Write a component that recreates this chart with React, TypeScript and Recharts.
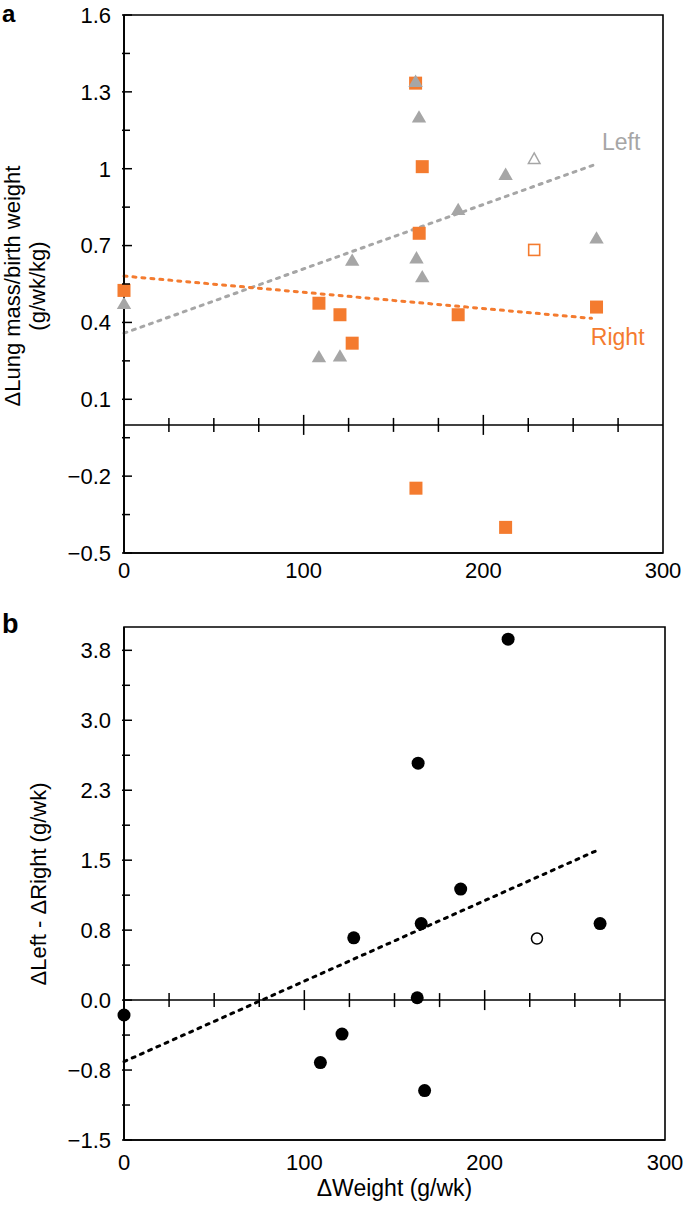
import React from "react";
import {
  ReferenceArea,
  ReferenceDot,
  ReferenceLine,
  Scatter,
  ScatterChart,
  XAxis,
  YAxis,
} from "recharts";

const FONT = '"Liberation Sans", Arial, Helvetica, sans-serif';
const ORANGE = "#f47b2f";
const GRAY = "#a6a6a6";

// panel a – right lung (orange squares)
const rightX = [0, 108.5, 120.2, 127, 162.3, 164.3, 166, 186, 263, 162.5, 212.4];
const rightY = [0.525, 0.475, 0.43, 0.319, 1.334, 0.748, 1.008, 0.43, 0.46, -0.247, -0.4];
const rightOpenX = [228.3];
const rightOpenY = [0.683];
const rightTrendX = [0, 260.2];
const rightTrendY = [0.581, 0.416];

// panel a – left lung (grey triangles)
const leftX = [0, 108.5, 120.2, 127, 162.3, 164.2, 162.8, 166, 186, 212.4, 263];
const leftY = [0.475, 0.267, 0.27, 0.644, 1.342, 1.203, 0.653, 0.579, 0.842, 0.979, 0.731];
const leftOpenX = [228.3];
const leftOpenY = [1.04];
const leftTrendX = [0, 261.2];
const leftTrendY = [0.358, 1.014];

// panel b – left minus right
const diffX = [0, 108.9, 120.9, 127.4, 162.6, 164.8, 166.7, 186.7, 264, 163.1, 213];
const diffY = [-0.16, -0.67, -0.364, 0.668, 0.025, 0.82, -0.97, 1.19, 0.82, 2.54, 3.87];
const diffOpenX = [229];
const diffOpenY = [0.66];
const diffTrendX = [0, 262.6];
const diffTrendY = [-0.66, 1.607];

// ticks
const xTicks = [0, 100, 200, 300];
const zeroLineTicks = [25, 50, 75, 100, 125, 150, 175, 200, 225, 250, 275];
const zeroLineMajor = [100, 200];
const aMajorTicks = [-0.5, -0.2, 0.1, 0.4, 0.7, 1, 1.3, 1.6];
const aMajorLabels = ["−0.5", "−0.2", "0.1", "0.4", "0.7", "1", "1.3", "1.6"];
const aMinorTicks = [-0.35, -0.05, 0.25, 0.55, 0.85, 1.15, 1.45];
const bMajorTicks = [-1.5, -0.75, 0, 0.75, 1.5, 2.25, 3, 3.75];
const bMajorLabels = ["−1.5", "−0.8", "0.0", "0.8", "1.5", "2.3", "3.0", "3.8"];
const bMinorTicks = [-1.125, -0.375, 0.375, 1.125, 1.875, 2.625, 3.375];

const zip = (xs: number[], ys: number[]) => xs.map((x, i) => ({ x, y: ys[i] }));
const zeroTickData = zeroLineTicks.map((x) => ({ x, y: 0, major: zeroLineMajor.includes(x) }));

function makeYTick(values: number[], labels: string[]) {
  return (props: any) => {
    const { x, y, payload } = props;
    const i = values.findIndex((v) => Math.abs(v - payload.value) < 1e-6);
    const major = i >= 0;
    return (
      <g>
        <line x1={x} x2={x + (major ? 10 : 8)} y1={y} y2={y} stroke="#000" strokeWidth={1.5} />
        {major && (
          <text x={x - 11} y={y} dy="0.36em" textAnchor="end" fontSize={22} fontFamily={FONT} fill="#000">
            {labels[i]}
          </text>
        )}
      </g>
    );
  };
}

function makeXTick(dy: number) {
  return (props: any) => (
    <text x={props.x} y={props.y + dy} textAnchor="middle" fontSize={22} fontFamily={FONT} fill="#000">
      {props.payload.value}
    </text>
  );
}

const ZeroTick = (p: any) => {
  const h = p.payload.major ? 10 : 7;
  return <line x1={p.cx} x2={p.cx} y1={p.cy - h} y2={p.cy + h} stroke="#000" strokeWidth={1.5} />;
};
const Square = (p: any) => <rect x={p.cx - 6.5} y={p.cy - 6.5} width={13} height={13} fill={ORANGE} />;
const OpenSquare = (p: any) => (
  <rect x={p.cx - 5.5} y={p.cy - 5.5} width={11} height={11} fill="#fff" stroke={ORANGE} strokeWidth={1.6} />
);
const Triangle = (p: any) => (
  <polygon
    points={`${p.cx},${p.cy - 6.5} ${p.cx + 7.2},${p.cy + 5.8} ${p.cx - 7.2},${p.cy + 5.8}`}
    fill={GRAY}
  />
);
const OpenTriangle = (p: any) => (
  <polygon
    points={`${p.cx},${p.cy - 5.5} ${p.cx + 5.8},${p.cy + 5} ${p.cx - 5.8},${p.cy + 5}`}
    fill="#fff"
    stroke={GRAY}
    strokeWidth={1.5}
  />
);
const Dot = (p: any) => <circle cx={p.cx} cy={p.cy} r={6.5} fill="#000" />;
const OpenDot = (p: any) => <circle cx={p.cx} cy={p.cy} r={5.5} fill="#fff" stroke="#000" strokeWidth={1.5} />;

const textLabel = (text: string, color: string) => (p: any) => (
  <text x={p.viewBox.x} y={p.viewBox.y} fontSize={23} fontFamily={FONT} fill={color}>
    {text}
  </text>
);

export default function App() {
  const dash = { strokeWidth: 3, strokeDasharray: "3 6", strokeLinecap: "round" as const };
  return (
    <div style={{ position: "absolute", left: 0, top: 0, width: 685, height: 1206, background: "#fff" }}>
      <ScatterChart width={685} height={600} margin={{ top: 15, right: 22, bottom: 17, left: 64 }}>
        <XAxis
          type="number"
          dataKey="x"
          domain={[0, 300]}
          ticks={xTicks}
          interval={0}
          height={30}
          tickSize={0}
          tickLine={false}
          tick={makeXTick(23)}
          axisLine={{ stroke: "#000", strokeWidth: 1.5 }}
        />
        <YAxis
          type="number"
          dataKey="y"
          domain={[-0.5, 1.6]}
          ticks={[...aMajorTicks, ...aMinorTicks]}
          interval={0}
          width={60}
          tickSize={0}
          tickLine={false}
          tick={makeYTick(aMajorTicks, aMajorLabels)}
          axisLine={{ stroke: "#000", strokeWidth: 1.8 }}
          label={{
            content: () => (
              <g fontFamily={FONT} fill="#000">
                <text x={2} y={22} fontSize={24} fontWeight="bold">a</text>
                <text transform="translate(20,286) rotate(-90)" textAnchor="middle" fontSize={22}>
                  ΔLung mass/birth weight
                </text>
                <text transform="translate(45,286) rotate(-90)" textAnchor="middle" fontSize={22}>
                  (g/wk/kg)
                </text>
              </g>
            ),
          }}
        />
        <ReferenceArea x1={0} x2={300} y1={-0.5} y2={1.6} fill="none" stroke="#000" strokeWidth={1.6} />
        <ReferenceLine y={0} stroke="#000" strokeWidth={1.5} />
        <Scatter data={zeroTickData} shape={ZeroTick} isAnimationActive={false} />
        <ReferenceLine segment={zip(leftTrendX, leftTrendY)} stroke={GRAY} {...dash} />
        <ReferenceLine segment={zip(rightTrendX, rightTrendY)} stroke={ORANGE} {...dash} />
        <Scatter data={zip(rightX, rightY)} shape={Square} isAnimationActive={false} />
        <Scatter data={zip(rightOpenX, rightOpenY)} shape={OpenSquare} isAnimationActive={false} />
        <Scatter data={zip(leftX, leftY)} shape={Triangle} isAnimationActive={false} />
        <Scatter data={zip(leftOpenX, leftOpenY)} shape={OpenTriangle} isAnimationActive={false} />
        <ReferenceDot x={266.6} y={1.069} r={1} fill="none" stroke="none" label={{ content: textLabel("Left", GRAY) }} />
        <ReferenceDot x={260.4} y={0.308} r={1} fill="none" stroke="none" label={{ content: textLabel("Right", ORANGE) }} />
      </ScatterChart>

      <ScatterChart width={685} height={606} margin={{ top: 27, right: 20, bottom: 26, left: 64 }}>
        <XAxis
          type="number"
          dataKey="x"
          domain={[0, 300]}
          ticks={xTicks}
          interval={0}
          height={40}
          tickSize={0}
          tickLine={false}
          tick={makeXTick(28)}
          axisLine={{ stroke: "#000", strokeWidth: 1.5 }}
          label={{
            content: () => (
              <text x={394.5} y={596} textAnchor="middle" fontSize={23} fontFamily={FONT} fill="#000">
                ΔWeight (g/wk)
              </text>
            ),
          }}
        />
        <YAxis
          type="number"
          dataKey="y"
          domain={[-1.5, 4]}
          ticks={[...bMajorTicks, ...bMinorTicks]}
          interval={0}
          width={60}
          tickSize={0}
          tickLine={false}
          tick={makeYTick(bMajorTicks, bMajorLabels)}
          axisLine={{ stroke: "#000", strokeWidth: 1.8 }}
          label={{
            content: () => (
              <g fontFamily={FONT} fill="#000">
                <text x={2} y={33} fontSize={27} fontWeight="bold">b</text>
                <text transform="translate(46,284) rotate(-90)" textAnchor="middle" fontSize={22}>
                  ΔLeft - ΔRight (g/wk)
                </text>
              </g>
            ),
          }}
        />
        <ReferenceArea x1={0} x2={300} y1={-1.5} y2={4} fill="none" stroke="#000" strokeWidth={1.6} />
        <ReferenceLine y={0} stroke="#000" strokeWidth={1.5} />
        <Scatter data={zeroTickData} shape={ZeroTick} isAnimationActive={false} />
        <ReferenceLine segment={zip(diffTrendX, diffTrendY)} stroke="#000" {...dash} />
        <Scatter data={zip(diffX, diffY)} shape={Dot} isAnimationActive={false} />
        <Scatter data={zip(diffOpenX, diffOpenY)} shape={OpenDot} isAnimationActive={false} />
      </ScatterChart>
    </div>
  );
}
